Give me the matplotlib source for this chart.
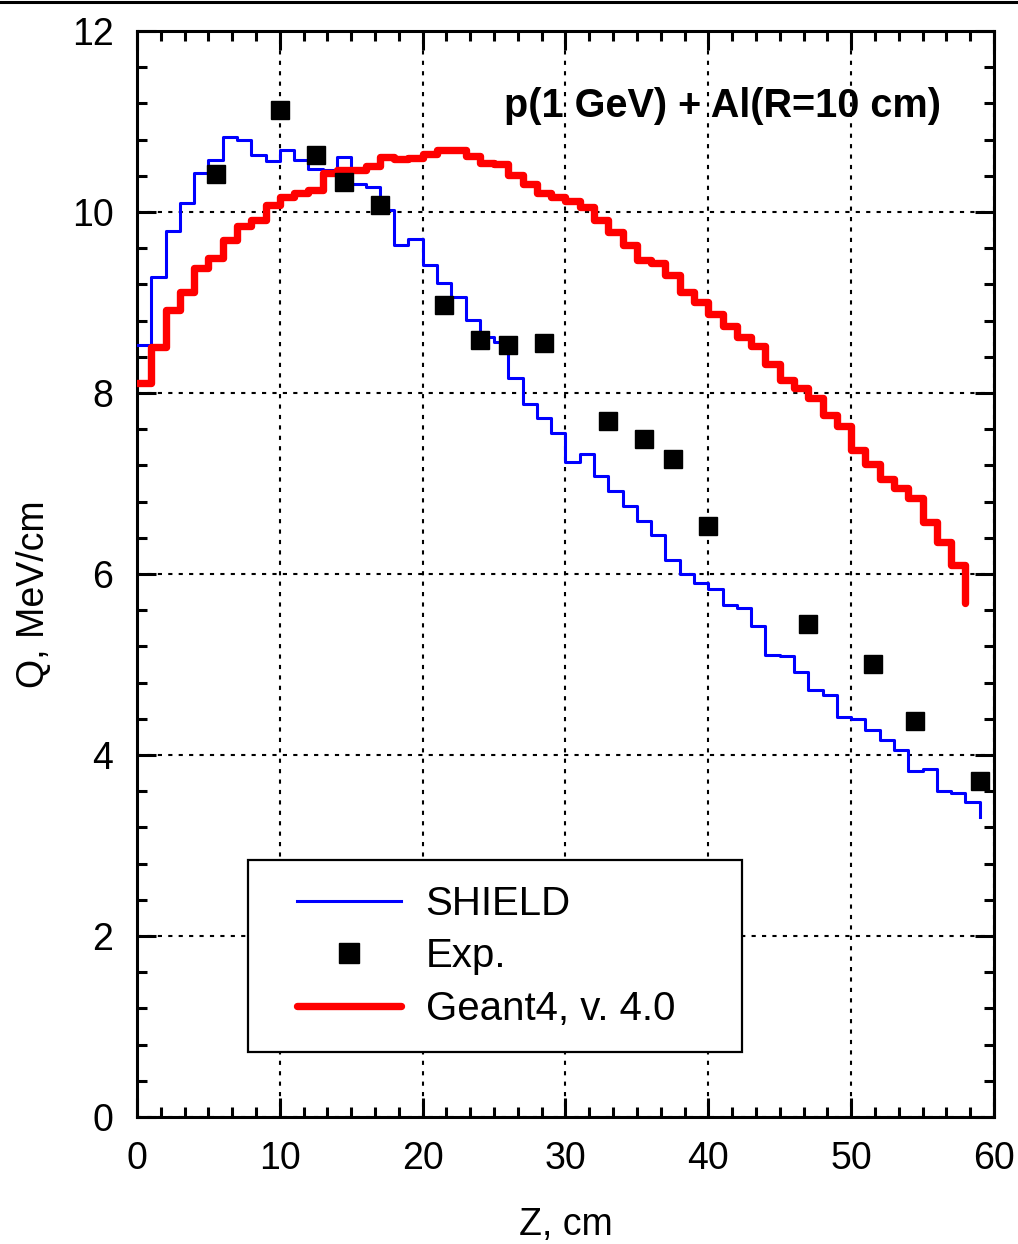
import numpy as np
import matplotlib
matplotlib.use("Agg")
import matplotlib.pyplot as plt
from matplotlib.ticker import MultipleLocator, AutoMinorLocator
from matplotlib.lines import Line2D
from matplotlib.legend_handler import HandlerLine2D

plt.rcParams['font.family'] = ['Liberation Sans', 'DejaVu Sans']

# SHIELD histogram, 1 cm bins (left edges), last entry closes the last bin
shield_z = np.arange(0, 60)
shield_q = [8.53, 9.28, 9.79, 10.10, 10.43, 10.57, 10.83, 10.80, 10.63, 10.56,
            10.69, 10.57, 10.47, 10.46, 10.61, 10.31, 10.28, 10.02, 9.64, 9.70,
            9.41, 9.21, 9.06, 8.81, 8.62, 8.56, 8.17, 7.88, 7.72, 7.56,
            7.24, 7.33, 7.08, 6.92, 6.75, 6.58, 6.43, 6.15, 6.00, 5.90,
            5.83, 5.66, 5.62, 5.43, 5.10, 5.09, 4.92, 4.72, 4.66, 4.42,
            4.40, 4.28, 4.17, 4.05, 3.82, 3.84, 3.60, 3.58, 3.48, 3.32]

# Geant4 histogram, 1 cm bins
geant_z = np.arange(0, 59)
geant_q = [8.11, 8.51, 8.92, 9.12, 9.38, 9.49, 9.69, 9.84, 9.91, 10.08,
           10.17, 10.21, 10.24, 10.43, 10.46, 10.46, 10.51, 10.61, 10.59, 10.60,
           10.64, 10.69, 10.69, 10.62, 10.54, 10.53, 10.41, 10.31, 10.21, 10.17,
           10.12, 10.05, 9.91, 9.78, 9.63, 9.47, 9.44, 9.30, 9.12, 9.00,
           8.87, 8.74, 8.62, 8.52, 8.32, 8.14, 8.05, 7.94, 7.76, 7.63,
           7.37, 7.22, 7.05, 6.95, 6.84, 6.57, 6.35, 6.10, 5.68]

# experiment
exp_z = [5.5, 10.0, 12.5, 14.5, 17.0, 21.5, 24.0, 26.0, 28.5, 33.0,
         35.5, 37.5, 40.0, 47.0, 51.5, 54.5, 59.0]
exp_q = [10.42, 11.13, 10.63, 10.33, 10.08, 8.97, 8.58, 8.53, 8.55, 7.69,
         7.49, 7.27, 6.53, 5.45, 5.01, 4.37, 3.71]


class ShiftedHandler(HandlerLine2D):
    # legend handle drawn only on the right part of the handle box
    def create_artists(self, legend, orig_handle, xdescent, ydescent,
                       width, height, fontsize, trans):
        off = 0.19 * width
        return super().create_artists(legend, orig_handle, xdescent - off, ydescent,
                                      width - off, height, fontsize, trans)


fig = plt.figure(figsize=(10.18, 12.44), dpi=100)
ax = fig.add_axes([0.1346, 0.1021, 0.8418, 0.8730])

l1, = ax.step(shield_z, shield_q, where='post', color='#0000ff', lw=2.2, label='SHIELD', zorder=3)
l2, = ax.plot(exp_z, exp_q, 's', color='black', ms=13, label='Exp.', zorder=4)
l3, = ax.step(geant_z, geant_q, where='post', color='#ff0000', lw=5.3,
              solid_capstyle='round', label='Geant4, v. 4.0', zorder=3)

ax.set_xlim(0, 60)
ax.set_ylim(0, 12)
ax.xaxis.set_major_locator(MultipleLocator(10))
ax.xaxis.set_minor_locator(AutoMinorLocator(6))
ax.yaxis.set_major_locator(MultipleLocator(2))
ax.yaxis.set_minor_locator(AutoMinorLocator(5))

ax.grid(True, which='major', color='black', linestyle=(0, (2, 3)), lw=1.5)
ax.tick_params(which='both', direction='in', top=True, right=True, width=2.2,
               labelsize=27, pad=17)
ax.tick_params(which='major', length=13.5)
ax.tick_params(which='minor', length=7.5)
for sp in ax.spines.values():
    sp.set_linewidth(2.2)

ax.set_xlabel('Z, cm', fontsize=27)
ax.set_ylabel('Q, MeV/cm', fontsize=27)
ax.xaxis.set_label_coords(0.5, -0.083)
ax.yaxis.set_label_coords(-0.099, 0.4816)

ax.text(56.3, 11.05, 'p(1 GeV) + Al(R=10 cm)', fontsize=28.5, fontweight='bold',
        ha='right', va='baseline')

hmap = {l1: ShiftedHandler(), l2: ShiftedHandler(), l3: ShiftedHandler()}
leg = ax.legend(handles=[l1, l2, l3], handler_map=hmap, loc='upper left',
                bbox_to_anchor=(0.1295, 0.0, 0.5764, 0.2366), mode='expand',
                fontsize=29, handlelength=3.2, handletextpad=0.6,
                labelspacing=0.36, borderpad=0.61, borderaxespad=0,
                fancybox=False, frameon=True, framealpha=1, markerscale=1.15)
leg.get_frame().set_edgecolor('black')
leg.get_frame().set_linewidth(1.6)
leg.set_zorder(5)

fig.add_artist(Line2D([0, 1], [0.9985, 0.9985], color='black', lw=2.2,
                      transform=fig.transFigure))

fig.savefig('out.png', dpi=100)
